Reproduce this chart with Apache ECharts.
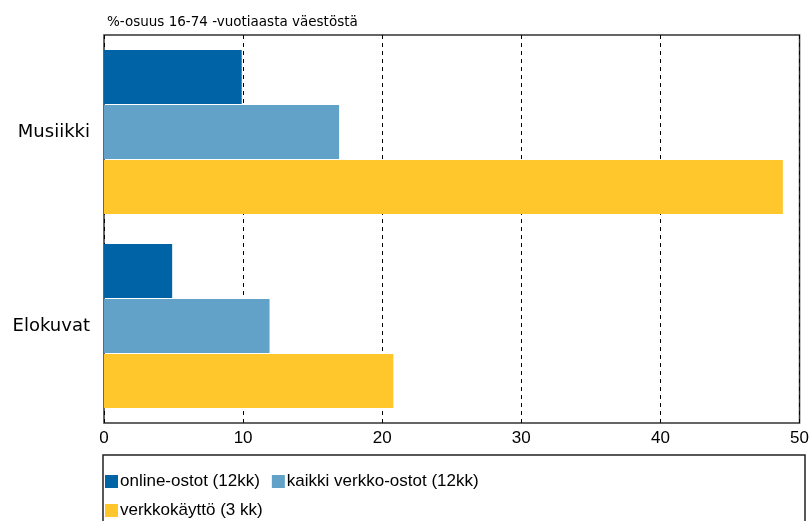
<!DOCTYPE html>
<html>
<head>
<meta charset="utf-8">
<script src="https://cdn.jsdelivr.net/npm/echarts@6/dist/echarts.min.js"></script>
<style>
  html, body { margin: 0; padding: 0; background: #fff; }
  #chart { width: 812px; height: 521px; }
</style>
</head>
<body>
<div id="chart"></div>
<script>
// categories, top to bottom
const categories = ['Musiikki', 'Elokuvat'];
const seriesNames = ['online-ostot (12kk)', 'kaikki verkko-ostot (12kk)', 'verkkokäyttö (3 kk)'];
const onlineOstot = [9.9, 4.9];
const kaikkiOstot = [16.9, 11.9];
const verkkokaytto = [48.8, 20.8];
const colors = ['#0063a6', '#62a2c9', '#ffc72c'];

const narrow = "'Liberation Sans Narrow', 'Arial Narrow', 'Liberation Sans', sans-serif";

const chart = echarts.init(document.getElementById('chart'));

const mkSeries = (name, data, i) => ({
  name: name,
  type: 'bar',
  data: data,
  barWidth: 54,
  barGap: '2%',
  itemStyle: { color: colors[i] },
});

chart.setOption({
  animation: false,
  title: {
    text: '%-osuus 16-74 -vuotiaasta väestöstä',
    left: 102,
    top: 10,
    textStyle: { fontFamily: 'DejaVu Sans', fontSize: 13.5, fontWeight: 'normal', color: '#000' },
  },
  grid: {
    left: 104,
    right: 11,
    top: 35,
    bottom: 98,
    show: true,
    borderColor: '#333',
    borderWidth: 1.5,
    containLabel: false,
  },
  legend: {
    left: 105,
    top: 473,
    padding: 0,
    itemWidth: 13,
    itemHeight: 13,
    itemGap: 12,
    icon: 'rect',
    data: [seriesNames[0], seriesNames[1], '', seriesNames[2]],
    textStyle: { fontFamily: narrow, fontSize: 17, color: '#000', padding: [0, 0, 0, -3] },
  },
  graphic: [
    {
      type: 'rect',
      shape: { x: 103, y: 455, width: 702, height: 80 },
      style: { fill: 'none', stroke: '#222', lineWidth: 1.5 },
    },
  ],
  xAxis: {
    type: 'value',
    min: 0,
    max: 50,
    interval: 10,
    axisLine: { show: false },
    axisTick: { show: false },
    axisLabel: { fontFamily: narrow, fontSize: 17, color: '#000', margin: 7 },
    splitLine: { lineStyle: { color: '#000', type: [4, 4], width: 1 } },
  },
  yAxis: {
    type: 'category',
    data: categories,
    inverse: true,
    axisLine: { show: false },
    axisTick: { show: false },
    axisLabel: { fontFamily: 'DejaVu Sans', fontSize: 18, color: '#000', margin: 14 },
  },
  series: [
    mkSeries(seriesNames[0], onlineOstot, 0),
    mkSeries(seriesNames[1], kaikkiOstot, 1),
    mkSeries(seriesNames[2], verkkokaytto, 2),
  ],
});
</script>
</body>
</html>
